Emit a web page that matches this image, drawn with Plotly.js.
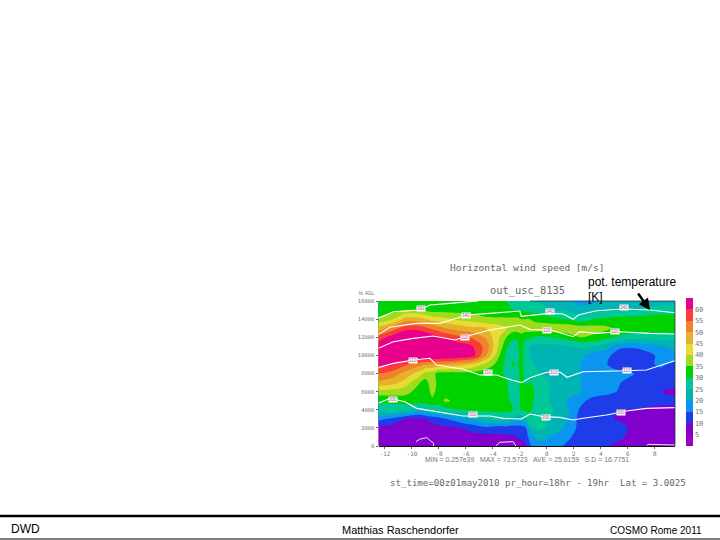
<!DOCTYPE html>
<html><head><meta charset="utf-8">
<script src="https://cdn.plot.ly/plotly-3.0.1.min.js"></script>
<style>html,body{margin:0;padding:0;background:#fff}#c{width:720px;height:540px}</style>
</head><body><div id="c"></div>
<script>
const columns=[-12.5,-11.5,-10.5,-9.5,-9,-8.5,-8,-7.5,-6.5,-5.5,-4.5,-3.5,-3,-2.5,-2.2,-1.9,-1.6,-1.25,-1,-0.5,0.5,1.5,2.5,3.5,4.5,5.5,6.5,7.5,8.5,9.5];
const heights=[0,1000,2000,3000,4000,5000,6000,7000,8000,9000,10000,11000,12000,13000,14000,15000,16000];
const speed=[
[5,5,5,5,5,5,5,5,5,5,6, 7,7,7,7.5,8,8.5,14,17,18,17,14, 13,12,10,8,6,5,5,5],
[6,6,6,6,6,6,7,7,7,8,8, 9,9,9.5,10,11,12,17,19,22,19,16, 13,12,11,11,7,6,6,6],
[8,8,8,7,7.5,8,8.5,9,10,12,14, 12,13,12,12.5,13,14,24,25,26,23,19, 13,12,11,12,8,7,7,7],
[17,14,10,9,10,12,13,15,18,21,25, 27,27,24,22,22,24,27,27,27,24,20, 13,12,11,9,8,8,8,8],
[27,28,27,22,24,26,27,28,30,31,31, 31,31,30,29,30,31,31,29,27,25,21, 14,12,11,10,10,9.5,9,9],
[31,31,32,33,33,34,33,36,33,32,31, 31,31,29,28,31,32,32,30,27,24,20, 17,12,11,11,11,11,11,11],
[38,38,37,33,32,36.5,33,32,32,32,31, 31,30.5,28,28,31,32,31,30.5,27,24,21, 20,19,17,14,11,11,10,9],
[49,47,43,35.5,33,38,33,33,32,32,31, 31,30.5,28,28,32,29,30.5,29,27,24,21, 20,19,18,15,12,11,11,11],
[55,53,48,43,38,37,33,33,33,33,32, 31,29,28,28,32,28,27,26,25,23,22, 20,19,18,16,15,14,13,11],
[63,61,56,52,50,50,49,49,47,44,38, 33,28,31,28,33,27,26,25,24,23,22, 20,17,15,12,12,14,16,13],
[68,70,70,68,68,67,67,66,65,62,50, 35,29,28,27,33,27,25,24,23,22,22, 21,18,16,12,11,13,17,19],
[63,66,68,68,68,68,67,66,63,60,53, 38,31,27,28,33,27,25,24,24,24,24, 26,25,22,16,16,18,20,21],
[57,62,66,66,65,63,61,59,56,54,49, 40,35,31,31,33,31,31,30,29,30,32, 35,34,31,29,27,27,27,27],
[47,52,58,58,56,54,52,50,48,46,45, 42,40,38,38,38,38,38,38,38,39,39, 38,37,36,33,33,33,33,33],
[36,39,47,47,45,43,42,41,39,38,36, 36,36,36,36,35,35,35,34,33,31,30, 27,30,31,32,32,33,33,33],
[32,33,35,35,34,33,33,33,33,33,32, 31,30.5,30,30,29.5,29,28.5,28,28,25,24, 22,23,24,25,25,26,27,27],
[33,33,33,33,33,33,33,33,33,33,32, 31,30,28,28,27.5,27,26,25,24,22,21, 18,19,21,22,22,23,23,23]];
const levels=[0,5,10,15,20,25,30,35,40,45,50,55,60,65];
const binColors=['#9a00c4','#8200cc','#1e3ce8','#0a96f0','#00b4b4','#00c896','#00d200','#a0dc1e','#e6dc32','#e6af2d','#f08228','#fa3c3c','#e6008c'];
const barTicks=[5,10,15,20,25,30,35,40,45,50,55,60];
const xTicks=[-12,-10,-8,-6,-4,-2,0,2,4,6,8];
const yTicks=[0,2000,4000,6000,8000,10000,12000,14000,16000];
const lineAx=[-12.49,-11.38,-9.41,-8.67,-7.19,-5.09];
const lineAy=[14085,14820,15010,15560,15740,16000];
const lineBx=[-12.49,-11.63,-9.65,-7.93,-6.69,-5.95,-4.22,-2.0,-1.9,0.22,1.21,1.95,2.32,3.68,5.65,7.63,9.48];
const lineBy=[12320,13095,13535,13535,14085,14455,14640,14895,14300,14640,14565,13975,14455,14930,15115,15005,14710];
const lineCx=[-12.49,-11.38,-9.9,-8.42,-6.81,-6.07,-4.22,-2.0,-1.26,0.47,1.95,2.44,3.68,5.41,7.63,9.48];
const lineCy=[10775,11510,11880,12140,11695,12065,12800,13350,12870,12725,12065,12615,12430,12615,12430,12360];
const lineDx=[-12.49,-11.38,-9.9,-8.67,-8.17,-6.2,-4.96,-3.73,-2.62,-1.88,-1.25,0,1,1.5,2.2,2.69,5.9,7.38,9.48];
const lineDy=[8645,9120,9490,9675,8935,8460,7830,7830,7280,6990,7540,8130,8130,7580,7950,8200,8310,8385,9415];
const lineEx=[-12.49,-11.63,-10.52,-9.65,-8.17,-6.2,-4.96,-4.22,-3.23,-1.88,-1.25,-0.27,0.96,1.95,2.69,4.42,5.9,7.38,9.48];
const lineEy=[4710,5260,4890,4155,3790,3310,3310,3310,3050,2980,3530,3240,3160,2870,3055,3420,3860,4155,4230];
const loopAx=[-9.7,-9.4,-8.9,-8.4,-8.4];
const loopAy=[480,770,920,295,0];
const loopBx=[-3.8,-3.5,-2.5,-2.3];
const loopBy=[0,405,480,0];
const loopCx=[7.4,7.5,9.48];
const loopCy=[40,185,110];
const tagX=[-9.3,-6.02,0.27,5.75,-6.07,0.0,5.06,-9.9,-4.35,0.52,5.95,-11.44,-5.5,-0.07,5.46];
const tagY=[15190,14420,14820,15260,11990,12760,12580,9420,8090,8130,8310,5150,3490,3160,3750];
const tagText=['360','340','340','340','320','320','320','310','310','310','310','300','300','300','300'];
const stats='MIN = 0.257e39   MAX = 73.5723   AVE = 25.6159   S.D = 16.7751';
const runInfo='st_time=00z01may2010 pr_hour=18hr - 19hr  Lat = 3.0025';

const W=720,H=540,px=v=>v/W,py=v=>1-v/H;
const scale=[];
binColors.forEach((c,i)=>{const a=levels[i]/65,b=levels[i+1]/65;scale.push([a,c],[b,c]);});
const whiteLine=(x,y,w)=>({type:'scatter',mode:'lines',x,y,showlegend:false,hoverinfo:'skip',line:{color:'#fff',width:w||1.1}});
const traces=[{type:'contour',x:columns,y:heights,z:speed,zmin:0,zmax:65,autocontour:false,
  contours:{start:5,end:60,size:5,coloring:'fill',showlines:false},line:{width:0},
  colorscale:scale,showscale:true,
  colorbar:{x:px(686),xanchor:'left',y:py(446),yanchor:'bottom',len:148/540,lenmode:'fraction',thickness:7,thicknessmode:'pixels',
    outlinewidth:0,borderwidth:0,xpad:0,ypad:0,tickmode:'array',tickvals:barTicks,ticktext:barTicks.map(String),ticks:'',
    tickfont:{family:'DejaVu Sans Mono',size:7,color:'#777'}}},
 whiteLine(lineAx,lineAy),whiteLine(lineBx,lineBy),whiteLine(lineCx,lineCy),whiteLine(lineDx,lineDy),whiteLine(lineEx,lineEy),
 whiteLine(loopAx,loopAy,.9),whiteLine(loopBx,loopBy,.9),whiteLine(loopCx,loopCy,.9)];
const note=(text,x,y,o)=>Object.assign({text,xref:'paper',yref:'paper',x:px(x),y:py(y),xanchor:'center',yanchor:'middle',showarrow:false,
  font:{family:'DejaVu Sans Mono',size:9.5,color:'#666'}},o||{});
const ann=[
 note('Horizontal wind speed [m/s]',527,267),
 note('out_usc_8135',527,290,{font:{family:'DejaVu Sans Mono',size:10.4,color:'#666'}}),
 note('pot. temperature',586,282,{xanchor:'left',font:{family:'Liberation Sans',size:12,color:'#000'}}),
 note('[K]',586,297,{xanchor:'left',font:{family:'Liberation Sans',size:12,color:'#000'}}),
 note(stats,527,459,{font:{family:'Liberation Sans',size:6.9,color:'#777'}}),
 note(runInfo,538,483,{font:{family:'DejaVu Sans Mono',size:9.1,color:'#666'}}),
 note('ht. AGL',367,293.5,{font:{family:'Liberation Sans',size:4.5,color:'#666'}}),
 note('DWD',9,529,{xanchor:'left',font:{family:'Liberation Sans',size:12,color:'#000'}}),
 note('Matthias Raschendorfer',400.5,529.5,{font:{family:'Liberation Sans',size:11,color:'#000'}}),
 note('COSMO Rome 2011',656,530,{font:{family:'Liberation Sans',size:10,color:'#000'}}),
 {xref:'paper',yref:'paper',x:px(650),y:py(310),axref:'pixel',ayref:'pixel',ax:-13,ay:-18,text:'',showarrow:true,arrowhead:2,arrowsize:0.9,arrowwidth:2.5,arrowcolor:'#000'}
];
tagText.forEach((t,i)=>ann.push({text:t,x:tagX[i],y:tagY[i],xref:'x',yref:'y',showarrow:false,bgcolor:'#fff',borderpad:0,
  font:{family:'Liberation Sans',size:4.5,color:'#b04a90'}}));
const hline=(x0,x1,y,w,c)=>({type:'line',xref:'paper',yref:'paper',x0:px(x0),x1:px(x1),y0:py(y),y1:py(y),line:{color:c||'#000',width:w}});
const layout={width:W,height:H,margin:{l:0,r:0,t:0,b:0,pad:0},paper_bgcolor:'#fff',plot_bgcolor:'#fff',showlegend:false,
 xaxis:{domain:[px(378.5),px(675)],range:[-12.48,9.5],tickmode:'array',tickvals:xTicks,ticktext:xTicks.map(String),ticks:'outside',ticklen:2,tickwidth:.7,tickcolor:'#222',
   showgrid:false,zeroline:false,showline:true,linecolor:'#111',linewidth:1.2,tickfont:{family:'DejaVu Sans Mono',size:6,color:'#777'},automargin:false},
 yaxis:{domain:[py(446),py(301)],range:[0,16000],tickmode:'array',tickvals:yTicks,ticktext:yTicks.map(String),ticks:'outside',ticklen:2,tickwidth:.7,tickcolor:'#222',
   showgrid:false,zeroline:false,showline:false,tickfont:{family:'DejaVu Sans Mono',size:5.5,color:'#777'},automargin:false},
 annotations:ann,
 shapes:[hline(0,720,516,2.5),hline(0,720,539,1),hline(530,675,301,.7,'#123'),
  {type:'line',xref:'paper',yref:'paper',x0:px(675),x1:px(675),y0:py(301),y1:py(446),line:{color:'#123',width:.7}}]};
Plotly.newPlot('c',traces,layout,{staticPlot:true,displayModeBar:false});
</script></body></html>
